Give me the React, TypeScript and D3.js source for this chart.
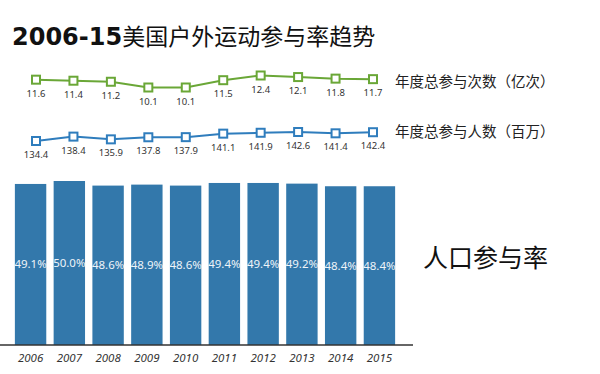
import * as d3 from "d3";

const years = ["2006", "2007", "2008", "2009", "2010", "2011", "2012", "2013", "2014", "2015"];
const visits = [11.6, 11.4, 11.2, 10.1, 10.1, 11.5, 12.4, 12.1, 11.8, 11.7];
const participants = [134.4, 138.4, 135.9, 137.8, 137.9, 141.1, 141.9, 142.6, 141.4, 142.4];
const rates = [49.1, 50.0, 48.6, 48.9, 48.6, 49.4, 49.4, 49.2, 48.4, 48.4];

const W = 600;
const H = 374;
const green = "#6aa737";
const blue = "#2f7dbd";
const barColor = "#3378ab";

const App = () => {
  const x = d3.scaleBand().domain(years).range([11, 399]).paddingInner(0.19).paddingOuter(0.1);
  const xp = d3.scalePoint().domain(years).range([36, 373]);
  const yBar = d3.scaleLinear().domain([0, 50]).range([345, 181]);
  const yVisit = d3.scaleLinear().domain([10.1, 12.4]).range([87.5, 75.5]);
  const yPart = d3.scaleLinear().domain([134.4, 142.6]).range([141, 132]);

  const greenLine = d3
    .line<number>()
    .x((_, i) => xp(years[i])!)
    .y((d) => yVisit(d));
  const blueLine = d3
    .line<number>()
    .x((_, i) => xp(years[i])!)
    .y((d) => yPart(d));

  const sans = "'Noto Sans', 'DejaVu Sans', sans-serif";
  const cjk = "'Noto Sans CJK SC', sans-serif";

  return (
    <svg
      width={W}
      height={H}
      style={{ position: "absolute", left: 0, top: 0, background: "#fff" }}
    >
      <text x={12} y={45} fill="#111">
        <tspan fontFamily="'DejaVu Sans', sans-serif" fontWeight="bold" fontSize={24}>
          2006-15
        </tspan>
        <tspan fontFamily={cjk} fontSize={23}>
          美国户外运动参与率趋势
        </tspan>
      </text>

      {/* 参与次数 */}
      <path d={greenLine(visits)!} fill="none" stroke={green} strokeWidth={2} />
      {visits.map((v, i) => (
        <g key={"g" + i}>
          <rect x={xp(years[i])! - 4} y={yVisit(v) - 4} width={8} height={8} fill="#fff" stroke={green} strokeWidth={2} />
          <text x={xp(years[i])!} y={yVisit(v) + 17} textAnchor="middle" fontSize={9.5} fontFamily={sans} fill="#333">
            {v.toFixed(1)}
          </text>
        </g>
      ))}
      <text x={395} y={87} fontSize={14.5} fontFamily={cjk} fill="#222">
        年度总参与次数（亿次）
      </text>

      {/* 参与人数 */}
      <path d={blueLine(participants)!} fill="none" stroke={blue} strokeWidth={2} />
      {participants.map((v, i) => (
        <g key={"b" + i}>
          <rect x={xp(years[i])! - 4} y={yPart(v) - 4} width={8} height={8} fill="#fff" stroke={blue} strokeWidth={2} />
          <text x={xp(years[i])!} y={yPart(v) + 17} textAnchor="middle" fontSize={9.5} fontFamily={sans} fill="#333">
            {v.toFixed(1)}
          </text>
        </g>
      ))}
      <text x={395} y={137} fontSize={14.5} fontFamily={cjk} fill="#222">
        年度总参与人数（百万）
      </text>

      {/* 人口参与率 */}
      {rates.map((v, i) => (
        <g key={"r" + i}>
          <rect x={x(years[i])} y={yBar(v)} width={x.bandwidth()} height={yBar(0) - yBar(v)} fill={barColor} />
          <text
            x={x(years[i])! + x.bandwidth() / 2}
            y={(yBar(v) + yBar(0)) / 2 + 4}
            textAnchor="middle"
            fontSize={11.5}
            fontFamily={sans}
            fill="#eef4f9"
          >
            {v.toFixed(1)}%
          </text>
          <text
            x={x(years[i])! + x.bandwidth() / 2}
            y={362}
            textAnchor="middle"
            fontSize={11.5}
            fontStyle="italic"
            fontFamily={sans}
            fill="#333"
          >
            {years[i]}
          </text>
        </g>
      ))}
      <line x1={0} x2={413} y1={yBar(0)} y2={yBar(0)} stroke="#333" strokeWidth={1.5} />
      <text x={423} y={267} fontSize={25} fontFamily={cjk} fill="#111">
        人口参与率
      </text>
    </svg>
  );
};

export default App;
